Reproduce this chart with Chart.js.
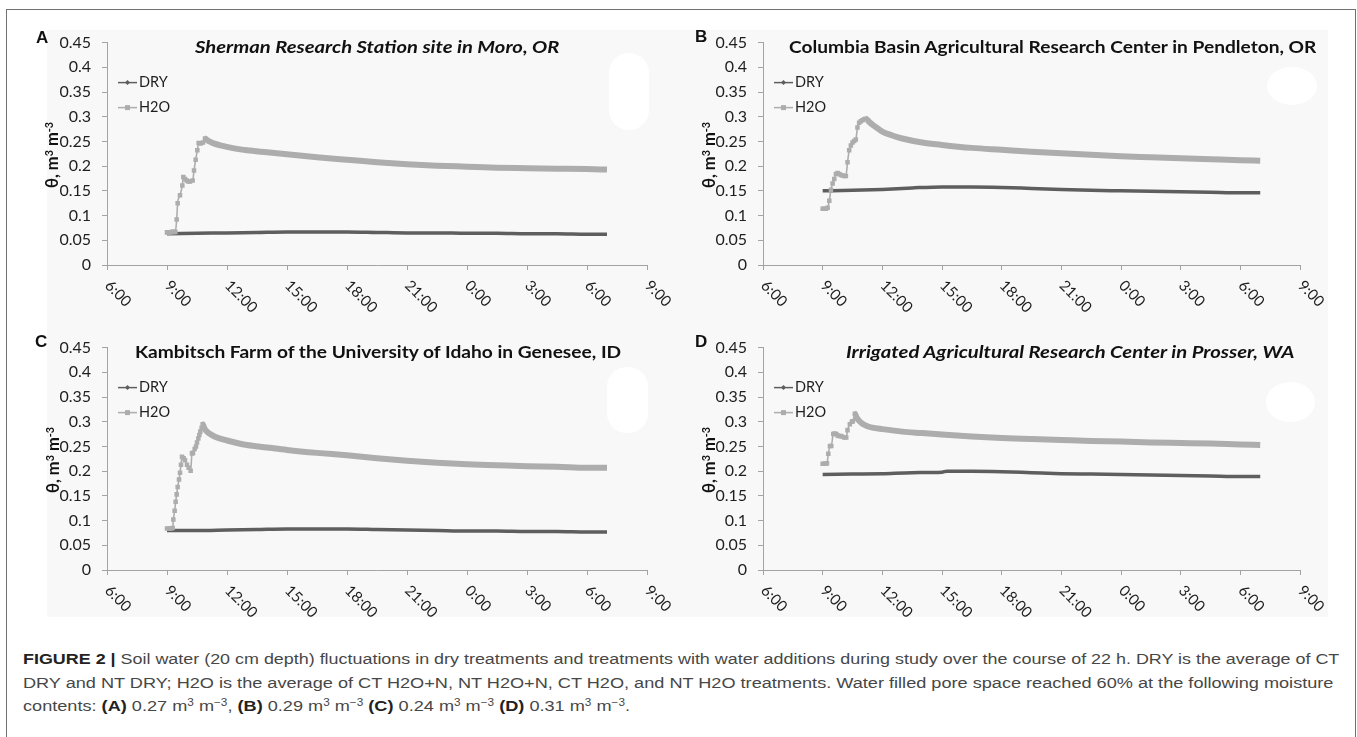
<!DOCTYPE html>
<html>
<head>
<meta charset="utf-8">
<title>Soil water fluctuations</title>
<script src="https://cdn.jsdelivr.net/npm/chart.js@4.4.1/dist/chart.umd.min.js"></script>
<style>
  body { margin: 0; width: 1357px; height: 737px; overflow: hidden; position: relative; background: #fff; }
  .frame { position: absolute; left: 6px; top: 9px; width: 1350px; height: 800px; border: 1.5px solid #707070; box-sizing: border-box; }
  .plotbg { position: absolute; left: 47px; top: 30px; width: 1281px; height: 587px; background: #f8f8f8; }
  canvas { position: absolute; }
  .blob { position: absolute; background: #fff; }
  .letter { position: absolute; font: bold 17px/17px "Liberation Sans", Arial, sans-serif; color: #111; }
  .title { position: absolute; font: bold 17.5px/20px Lato, sans-serif; color: #111; white-space: nowrap; transform-origin: 0 50%; }
  .title.it { font-style: italic; }
  .ytitle { position: absolute; font: bold 16.5px/18px Lato, sans-serif; color: #111; white-space: nowrap; transform: translate(-50%, -50%) rotate(-90deg); }
  .ytitle sup, .cap sup { font-size: 0.65em; vertical-align: 0.5em; line-height: 0; }
  .cap { position: absolute; left: 23px; font: 15.5px/20px "Liberation Sans", Arial, sans-serif; color: #474747; white-space: nowrap; transform-origin: 0 50%; }
  .cap b { color: #222; }
</style>
</head>
<body>
<div class="frame"></div>
<div class="plotbg"></div>

<canvas id="cA" width="640" height="295" style="left:40px;top:22px"></canvas>
<canvas id="cB" width="640" height="295" style="left:700px;top:22px"></canvas>
<canvas id="cC" width="640" height="295" style="left:40px;top:327px"></canvas>
<canvas id="cD" width="640" height="295" style="left:700px;top:327px"></canvas>

<div class="blob" style="left:609px;top:53px;width:40px;height:77px;border-radius:20px"></div>
<div class="blob" style="left:1267px;top:67px;width:50px;height:38px;border-radius:50%"></div>
<div class="blob" style="left:607px;top:367px;width:41px;height:66px;border-radius:20px"></div>
<div class="blob" style="left:1266px;top:382px;width:49px;height:40px;border-radius:50%"></div>

<div class="letter" style="left:36px;top:29px">A</div>
<div class="letter" style="left:695px;top:28px">B</div>
<div class="letter" style="left:35px;top:333px">C</div>
<div class="letter" style="left:695px;top:333px">D</div>

<div class="title it" data-fit="364" style="left:195px;top:37px">Sherman Research Station site in Moro, OR</div>
<div class="title" data-fit="527" style="left:789px;top:37px">Columbia Basin Agricultural Research Center in Pendleton, OR</div>
<div class="title" data-fit="486" style="left:135px;top:342px">Kambitsch Farm of the University of Idaho in Genesee, ID</div>
<div class="title it" data-fit="448" style="left:846px;top:342px">Irrigated Agricultural Research Center in Prosser, WA</div>

<div class="ytitle" style="left:52px;top:155px">θ, m<sup>3</sup> m<sup>-3</sup></div>
<div class="ytitle" style="left:709px;top:155px">θ, m<sup>3</sup> m<sup>-3</sup></div>
<div class="ytitle" style="left:53px;top:460px">θ, m<sup>3</sup> m<sup>-3</sup></div>
<div class="ytitle" style="left:709px;top:460px">θ, m<sup>3</sup> m<sup>-3</sup></div>

<div class="cap" id="cap1" data-fit="1316" style="top:649px"><b>FIGURE 2 |</b> Soil water (20 cm depth) fluctuations in dry treatments and treatments with water additions during study over the course of 22 h. DRY is the average of CT</div>
<div class="cap" id="cap2" data-fit="1310" style="top:673px">DRY and NT DRY; H2O is the average of CT H2O+N, NT H2O+N, CT H2O, and NT H2O treatments. Water filled pore space reached 60% at the following moisture</div>
<div class="cap" id="cap3" style="top:696px">contents: <b>(A)</b> 0.27 m<sup>3</sup> m<sup>−3</sup>, <b>(B)</b> 0.29 m<sup>3</sup> m<sup>−3</sup> <b>(C)</b> 0.24 m<sup>3</sup> m<sup>−3</sup> <b>(D)</b> 0.31 m<sup>3</sup> m<sup>−3</sup>.</div>

<script>
// x axis tick labels (axis runs 6:00 -> 9:00 next day)
var tickLabels = ['6:00', '9:00', '12:00', '15:00', '18:00', '21:00', '0:00', '3:00', '6:00', '9:00'];

// DRY readings (A, B, C share the same times)
var timeDry = ['9:00', '10:30', '12:00', '13:30', '15:00', '16:30', '18:00', '19:30', '21:00', '22:30', '0:00', '1:30', '3:00', '4:30', '6:00', '7:00'];
var dryA = [0.063, 0.064, 0.065, 0.066, 0.067, 0.067, 0.067, 0.066, 0.065, 0.065, 0.064, 0.064, 0.063, 0.063, 0.062, 0.062];
var dryB = [0.150, 0.151, 0.153, 0.156, 0.158, 0.158, 0.157, 0.155, 0.153, 0.151, 0.150, 0.149, 0.148, 0.147, 0.146, 0.146];
var dryC = [0.080, 0.080, 0.081, 0.082, 0.083, 0.083, 0.083, 0.082, 0.081, 0.080, 0.079, 0.079, 0.078, 0.078, 0.077, 0.077];
var timeDryD = ['9:00', '10:30', '12:00', '13:30', '15:00', '15:15', '16:30', '18:00', '19:30', '21:00', '22:30', '0:00', '1:30', '3:00', '4:30', '6:00', '7:00'];
var dryD = [0.193, 0.194, 0.195, 0.197, 0.198, 0.200, 0.200, 0.199, 0.197, 0.195, 0.194, 0.193, 0.192, 0.191, 0.190, 0.189, 0.189];

// H2O readings
var timeA = ['9:00', '9:05', '9:10', '9:15', '9:20', '9:25', '9:29', '9:32', '9:39', '9:46', '9:49', '9:54', '9:59', '10:04', '10:09', '10:17', '10:21', '10:26', '10:31', '10:35', '10:41', '10:48', '10:54',
  '11:00', '11:10', '11:20', '11:40', '12:00', '12:30', '13:00', '14:00', '15:00', '16:30', '18:00', '19:30', '21:00', '22:30', '0:00', '1:30', '3:00', '4:30', '6:00', '7:00'];
var h2oA = [0.066, 0.066, 0.066, 0.067, 0.067, 0.067, 0.092, 0.125, 0.141, 0.161, 0.178, 0.174, 0.171, 0.169, 0.169, 0.171, 0.191, 0.213, 0.232, 0.247, 0.246, 0.248, 0.256,
  0.253, 0.249, 0.246, 0.242, 0.239, 0.235, 0.232, 0.228, 0.224, 0.218, 0.213, 0.208, 0.204, 0.201, 0.199, 0.197, 0.196, 0.195, 0.194, 0.193];

var timeB = ['9:00', '9:05', '9:10', '9:15', '9:20', '9:25', '9:30', '9:35', '9:40', '9:45', '9:50', '9:55', '10:00', '10:05', '10:10', '10:15', '10:20', '10:25', '10:30', '10:35', '10:40', '10:45', '10:50', '10:55', '11:00', '11:05', '11:10',
  '11:20', '11:30', '11:45', '12:00', '12:30', '13:00', '14:00', '15:00', '16:30', '18:00', '19:30', '21:00', '22:30', '0:00', '1:30', '3:00', '4:30', '6:00', '7:00'];
var h2oB = [0.114, 0.114, 0.114, 0.116, 0.130, 0.152, 0.165, 0.174, 0.184, 0.186, 0.184, 0.182, 0.181, 0.180, 0.180, 0.208, 0.232, 0.242, 0.248, 0.251, 0.254, 0.278, 0.288, 0.291, 0.293, 0.295, 0.296,
  0.290, 0.284, 0.277, 0.270, 0.262, 0.256, 0.248, 0.243, 0.237, 0.233, 0.229, 0.226, 0.223, 0.220, 0.218, 0.216, 0.214, 0.212, 0.211];

var timeC = ['9:00', '9:06', '9:12', '9:17', '9:19', '9:23', '9:26', '9:29', '9:32', '9:36', '9:39', '9:42', '9:45', '9:50', '9:54', '10:00', '10:05', '10:11', '10:15', '10:18', '10:23', '10:27', '10:30', '10:34', '10:37', '10:40', '10:44', '10:47',
  '10:52', '11:00', '11:15', '11:30', '12:00', '12:30', '13:00', '14:00', '15:00', '16:30', '18:00', '19:30', '21:00', '22:30', '0:00', '1:30', '3:00', '4:30', '6:00', '7:00'];
var h2oC = [0.084, 0.084, 0.084, 0.085, 0.102, 0.120, 0.138, 0.153, 0.168, 0.183, 0.197, 0.213, 0.229, 0.226, 0.222, 0.213, 0.207, 0.201, 0.236, 0.237, 0.245, 0.250, 0.258, 0.266, 0.273, 0.280, 0.288, 0.295,
  0.287, 0.280, 0.273, 0.268, 0.262, 0.257, 0.253, 0.248, 0.243, 0.237, 0.232, 0.226, 0.221, 0.217, 0.214, 0.212, 0.210, 0.209, 0.207, 0.207];

var timeD = ['9:00', '9:05', '9:10', '9:13', '9:17', '9:22', '9:26', '9:32', '9:36', '9:41', '9:45', '9:49', '9:54', '9:58', '10:05', '10:11', '10:15', '10:22', '10:28', '10:31', '10:37',
  '10:42', '10:50', '11:00', '11:15', '11:30', '12:00', '13:00', '14:00', '15:00', '16:30', '18:00', '19:30', '21:00', '22:30', '0:00', '1:30', '3:00', '4:30', '6:00', '7:00'];
var h2oD = [0.215, 0.215, 0.215, 0.216, 0.235, 0.251, 0.251, 0.275, 0.276, 0.275, 0.272, 0.271, 0.271, 0.270, 0.268, 0.268, 0.283, 0.295, 0.300, 0.301, 0.316,
  0.309, 0.302, 0.296, 0.291, 0.288, 0.285, 0.280, 0.277, 0.274, 0.270, 0.267, 0.265, 0.263, 0.261, 0.260, 0.258, 0.257, 0.256, 0.254, 0.253];

var DRY_COLOR = '#5e5e5e';
var H2O_COLOR = '#adadad';
var AXIS_COLOR = '#a3a3a3';
var TEXT_COLOR = '#1e1e1e';

Chart.defaults.font.family = 'Lato, sans-serif';

// readings run from 9:00 to 7:00 the next morning
function toHours(t) {
  var parts = t.split(':').map(Number);
  var h = parts[0] < 8 ? parts[0] + 24 : parts[0];
  return h + parts[1] / 60;
}

function points(times, vals) {
  return times.map(function (t, i) { return { x: toHours(t), y: vals[i] }; });
}

// slanted hour labels + in-plot legend
var panelDecor = {
  id: 'panelDecor',
  afterDraw: function (chart) {
    var ctx = chart.ctx, area = chart.chartArea, xs = chart.scales.x;
    ctx.save();
    ctx.font = '15px Lato';
    ctx.fillStyle = TEXT_COLOR;
    ctx.textAlign = 'left';
    ctx.textBaseline = 'middle';
    xs.ticks.forEach(function (t, i) {
      var px = xs.getPixelForValue(t.value);
      ctx.save();
      ctx.translate(px + 0.5, area.bottom + 18);
      ctx.rotate(Math.PI / 4);
      ctx.fillText(tickLabels[i], 0, 0);
      ctx.restore();
    });

    var rows = [chart.data.datasets[1], chart.data.datasets[0]];
    ctx.font = '14.5px Lato';
    rows.forEach(function (ds, i) {
      var y = area.top + 40 + i * 25, x0 = area.left + 11;
      ctx.strokeStyle = ds.borderColor;
      ctx.lineWidth = 1.5;
      ctx.beginPath();
      ctx.moveTo(x0, y);
      ctx.lineTo(x0 + 19, y);
      ctx.stroke();
      ctx.fillStyle = ds.borderColor;
      if (ds.label === 'H2O') {
        ctx.fillRect(x0 + 7, y - 2.5, 5, 5);
      } else {
        ctx.beginPath();
        ctx.moveTo(x0 + 9.5, y - 2.5);
        ctx.lineTo(x0 + 12, y);
        ctx.lineTo(x0 + 9.5, y + 2.5);
        ctx.lineTo(x0 + 7, y);
        ctx.closePath();
        ctx.fill();
      }
      ctx.fillStyle = TEXT_COLOR;
      ctx.fillText(ds.label, x0 + 21, y);
    });
    ctx.restore();
  }
};

function makeChart(id, yWidth, padRight, h2oT, h2oV, dryT, dryV) {
  var peak = h2oV.indexOf(Math.max.apply(null, h2oV));
  return new Chart(document.getElementById(id), {
    type: 'line',
    data: {
      datasets: [{
        label: 'H2O',
        data: points(h2oT, h2oV),
        borderColor: H2O_COLOR,
        backgroundColor: H2O_COLOR,
        borderWidth: 1.6,
        pointStyle: 'rect',
        pointRadius: function (c) { return c.dataIndex <= peak ? 3.2 : 0; },
        pointBorderWidth: 0,
        pointBackgroundColor: H2O_COLOR,
        cubicInterpolationMode: 'monotone',
        segment: {
          borderWidth: function (c) { return c.p0DataIndex >= peak ? 6 : 1.6; }
        }
      }, {
        label: 'DRY',
        data: points(dryT, dryV),
        borderColor: DRY_COLOR,
        backgroundColor: DRY_COLOR,
        borderWidth: 3.5,
        pointRadius: 0,
        cubicInterpolationMode: 'monotone'
      }]
    },
    options: {
      responsive: false,
      animation: false,
      devicePixelRatio: 1,
      layout: { padding: { top: 15, right: padRight, left: 0, bottom: 0 } },
      plugins: { legend: { display: false }, tooltip: { enabled: false } },
      scales: {
        x: {
          type: 'linear', min: 6, max: 33,
          ticks: { stepSize: 3, display: false },
          grid: { drawOnChartArea: false, tickLength: 5, color: AXIS_COLOR },
          border: { color: AXIS_COLOR },
          afterFit: function (s) { s.height = 52; }
        },
        y: {
          min: 0, max: 0.45,
          ticks: {
            stepSize: 0.05, padding: 11, color: TEXT_COLOR, font: { size: 16 },
            callback: function (v) { return String(+v.toFixed(2)); }
          },
          grid: { drawOnChartArea: false, tickLength: 5, color: AXIS_COLOR },
          border: { color: AXIS_COLOR },
          afterFit: function (s) { s.width = yWidth; }
        }
      }
    },
    plugins: [panelDecor]
  });
}

function fitText() {
  document.querySelectorAll('[data-fit]').forEach(function (el) {
    var s = (+el.dataset.fit) / el.offsetWidth;
    el.style.transform = 'scaleX(' + s + ')';
    el.dataset.scale = s;
  });
  document.getElementById('cap3').style.transform = 'scaleX(' + document.getElementById('cap2').dataset.scale + ')';
}

document.fonts.ready.then(function () {
  fitText();
  makeChart('cA', 67, 33, timeA, h2oA, timeDry, dryA);
  makeChart('cB', 63, 40, timeB, h2oB, timeDry, dryB);
  makeChart('cC', 67, 33, timeC, h2oC, timeDry, dryC);
  makeChart('cD', 63, 40, timeD, h2oD, timeDryD, dryD);
});
</script>
</body>
</html>
